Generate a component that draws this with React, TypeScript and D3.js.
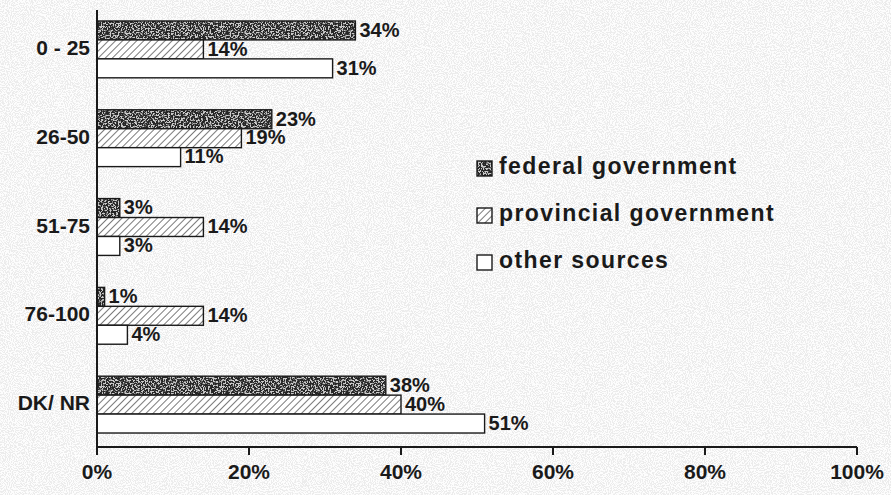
import React from "react";
import * as d3 from "d3";

const categories = ["0 - 25", "26-50", "51-75", "76-100", "DK/ NR"];
const seriesNames = ["federal government", "provincial government", "other sources"];
const federal = [34, 23, 3, 1, 38];
const provincial = [14, 19, 14, 14, 40];
const other = [31, 11, 3, 4, 51];
const xTicks = [0, 20, 40, 60, 80, 100];

const W = 891;
const H = 495;
const FONT = "'Liberation Sans', Arial, sans-serif";

export default function App() {
  const x = d3.scaleLinear().domain([0, 100]).range([97, 857]);
  const y = d3.scaleBand<string>().domain(categories).range([5, 449]).paddingInner(0.36).paddingOuter(0.18);
  const inner = d3.scaleBand<string>().domain(seriesNames).range([0, y.bandwidth()]).padding(0);
  const series = [federal, provincial, other];
  const fills = ["url(#fedFill)", "url(#hatch)", "#ffffff"];
  const axisY = 447;

  return (
    <div style={{ position: "fixed", left: 0, top: 0 }}>
      <svg width={W} height={H} style={{ display: "block" }}>
        <defs>
          <filter id="speckle" x="0" y="0" width="100%" height="100%">
            <feTurbulence type="fractalNoise" baseFrequency="0.95" numOctaves="1" seed="3" result="n" />
            <feColorMatrix
              in="n"
              type="matrix"
              values="0 0 0 0 0.5  0 0 0 0 0.5  0 0 0 0 0.5  0 0 0 -14 7.4"
            />
          </filter>
          <filter id="darkNoise" x="0" y="0" width="100%" height="100%">
            <feTurbulence type="fractalNoise" baseFrequency="0.6" numOctaves="2" seed="7" result="n" />
            <feColorMatrix
              in="n"
              type="matrix"
              values="0 0 0 0 0.6  0 0 0 0 0.6  0 0 0 0 0.6  0 0 0 -8 4.2"
            />
          </filter>
          <pattern id="fedFill" patternUnits="userSpaceOnUse" width="120" height="40">
            <rect width="120" height="40" fill="#262626" />
            <rect width="120" height="40" fill="#000" filter="url(#darkNoise)" />
          </pattern>
          <pattern id="hatch" patternUnits="userSpaceOnUse" width="5" height="5" patternTransform="rotate(45)">
            <rect width="5" height="5" fill="#ffffff" />
            <line x1="0" y1="0" x2="0" y2="5" stroke="#333" strokeWidth="1.3" />
          </pattern>
        </defs>
        <rect width={W} height={H} fill="#fdfdfd" />
        <rect width={W} height={H} fill="#fff" filter="url(#speckle)" opacity={0.25} />

        {categories.map((c, ci) =>
          series.map((vals, si) => {
            const y0 = (y(c) as number) + (inner(seriesNames[si]) as number);
            const h = inner.bandwidth();
            return (
              <g key={c + si}>
                <rect
                  x={x(0)}
                  y={y0}
                  width={x(vals[ci]) - x(0)}
                  height={h}
                  fill={fills[si]}
                  stroke="#1a1a1a"
                  strokeWidth={1.4}
                />
                <text
                  x={x(vals[ci]) + 4}
                  y={y0 + h / 2 + 1}
                  dominantBaseline="middle"
                  fontFamily={FONT}
                  fontWeight="bold"
                  fontSize={20}
                  fill="#1a1a1a"
                >
                  {vals[ci] + "%"}
                </text>
              </g>
            );
          })
        )}

        {/* y axis */}
        <line x1={x(0)} x2={x(0)} y1={10} y2={axisY} stroke="#1a1a1a" strokeWidth={2} />
        {categories.map((c) => (
          <text
            key={c}
            x={90}
            y={(y(c) as number) + y.bandwidth() / 2}
            textAnchor="end"
            dominantBaseline="middle"
            fontFamily={FONT}
            fontWeight="bold"
            fontSize={21}
            fill="#1a1a1a"
          >
            {c}
          </text>
        ))}

        {/* x axis */}
        <line x1={x(0)} x2={x(100)} y1={axisY} y2={axisY} stroke="#1a1a1a" strokeWidth={2} />
        {xTicks.map((t) => (
          <g key={t}>
            <line x1={x(t)} x2={x(t)} y1={axisY} y2={axisY + 8} stroke="#1a1a1a" strokeWidth={2} />
            <text
              x={x(t)}
              y={473}
              textAnchor="middle"
              dominantBaseline="middle"
              fontFamily={FONT}
              fontWeight="bold"
              fontSize={21}
              fill="#1a1a1a"
            >
              {t + "%"}
            </text>
          </g>
        ))}

        {/* legend */}
        {seriesNames.map((s, i) => {
          const ly = 168 + i * 47;
          return (
            <g key={s}>
              <rect x={477} y={ly - 7} width={15} height={15} fill={fills[i]} stroke="#1a1a1a" strokeWidth={1.4} />
              <text
                x={499}
                y={ly}
                dominantBaseline="middle"
                fontFamily={FONT}
                fontWeight="bold"
                fontSize={23}
                letterSpacing={1.4}
                fill="#1a1a1a"
              >
                {s}
              </text>
            </g>
          );
        })}
      </svg>
    </div>
  );
}
